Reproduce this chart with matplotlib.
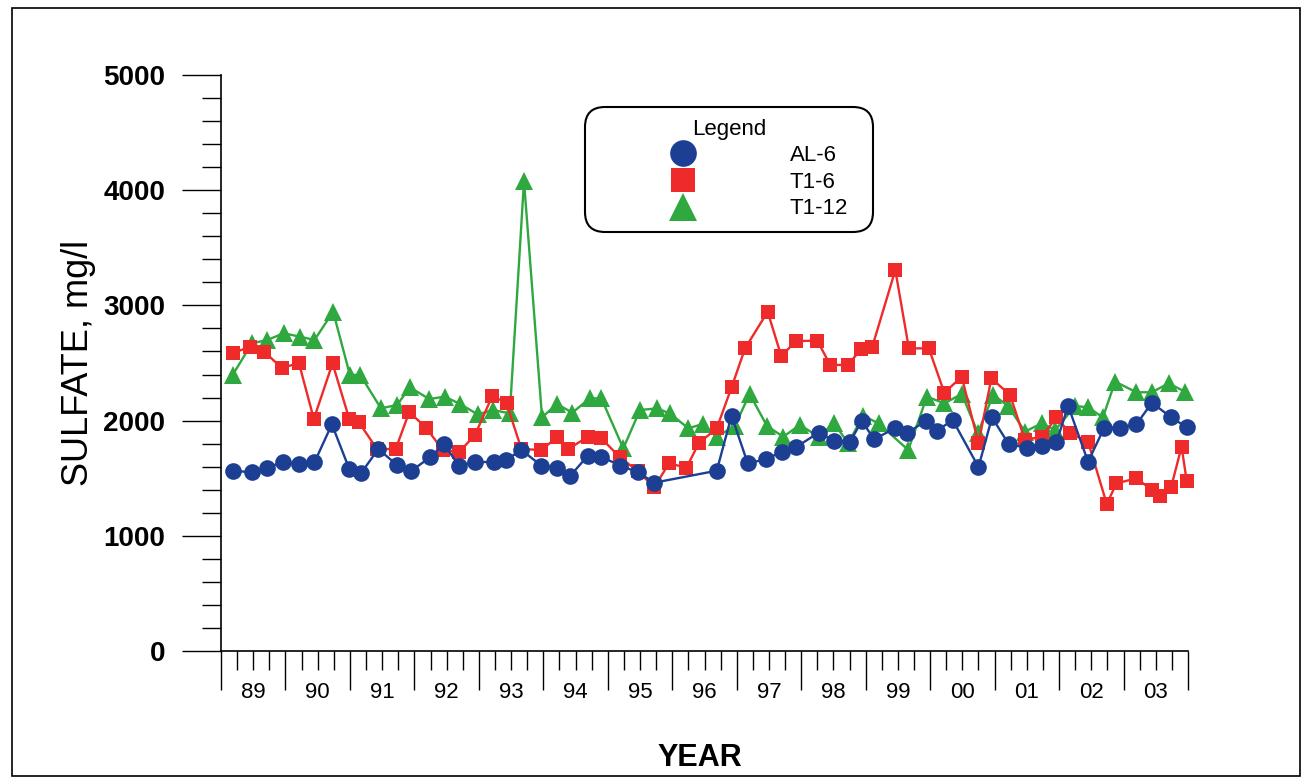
import numpy as np
import matplotlib
matplotlib.use("Agg")
import matplotlib.pyplot as plt
from matplotlib.lines import Line2D
from matplotlib.patches import Rectangle, FancyBboxPatch
from matplotlib.transforms import IdentityTransform

plt.rcParams["font.family"] = ["Liberation Sans", "DejaVu Sans"]

# sampling dates (decimal years) and sulfate values, mg/l
al6_dates = [1989.19, 1989.48, 1989.71, 1989.96, 1990.21, 1990.45, 1990.72, 1990.99,
             1991.17, 1991.44, 1991.73, 1991.95, 1992.24, 1992.46, 1992.69, 1992.94,
             1993.24, 1993.42, 1993.66, 1993.97, 1994.21, 1994.42, 1994.69, 1994.90,
             1995.19, 1995.47, 1995.72, 1996.69, 1996.92, 1997.17, 1997.45, 1997.70,
             1997.92, 1998.27, 1998.51, 1998.76, 1998.94, 1999.13, 1999.45, 1999.64,
             1999.93, 2000.10, 2000.35, 2000.75, 2000.96, 2001.22, 2001.50, 2001.73,
             2001.96, 2002.14, 2002.45, 2002.70, 2002.94, 2003.20, 2003.44, 2003.74,
             2003.98]
al6_values = [1565, 1551, 1586, 1643, 1620, 1638, 1968, 1580,
              1542, 1753, 1615, 1562, 1681, 1794, 1609, 1638,
              1643, 1658, 1745, 1609, 1586, 1522, 1695, 1687,
              1609, 1551, 1461, 1565, 2043, 1629, 1664, 1730,
              1770, 1895, 1825, 1817, 1999, 1837, 1933, 1890,
              1997, 1910, 2005, 1597, 2028, 1794, 1765, 1780,
              1811, 2129, 1643, 1938, 1938, 1968, 2155, 2028,
              1942]

t16_dates = [1989.18, 1989.45, 1989.67, 1989.94, 1990.21, 1990.44, 1990.73, 1990.99,
             1991.14, 1991.42, 1991.71, 1991.92, 1992.18, 1992.44, 1992.69, 1992.94,
             1993.21, 1993.43, 1993.66, 1993.97, 1994.21, 1994.39, 1994.69, 1994.90,
             1995.19, 1995.47, 1995.72, 1995.95, 1996.22, 1996.41, 1996.69, 1996.92,
             1997.13, 1997.48, 1997.69, 1997.92, 1998.25, 1998.45, 1998.72, 1998.93,
             1999.10, 1999.46, 1999.67, 1999.98, 2000.22, 2000.49, 2000.75, 2000.95,
             2001.24, 2001.47, 2001.73, 2001.96, 2002.17, 2002.45, 2002.74, 2002.89,
             2003.20, 2003.44, 2003.56, 2003.74, 2003.90, 2003.98]
t16_values = [2584, 2642, 2598, 2459, 2497, 2014, 2497, 2014,
              1985, 1753, 1753, 2075, 1938, 1745, 1725, 1875,
              2216, 2150, 1753, 1745, 1855, 1753, 1860, 1846,
              1680, 1560, 1421, 1629, 1591, 1803, 1933, 2289,
              2628, 2945, 2561, 2690, 2694, 2483, 2483, 2619,
              2636, 3307, 2627, 2627, 2242, 2381, 1803, 2367,
              2222, 1832, 1860, 2028, 1890, 1817, 1276, 1455,
              1499, 1398, 1345, 1426, 1773, 1478]

t112_dates = [1989.18, 1989.48, 1989.72, 1989.97, 1990.23, 1990.45, 1990.74, 1991.00,
              1991.16, 1991.48, 1991.73, 1991.93, 1992.23, 1992.47, 1992.71, 1992.98,
              1993.22, 1993.48, 1993.70, 1993.98, 1994.21, 1994.45, 1994.72, 1994.90,
              1995.24, 1995.50, 1995.76, 1995.96, 1996.25, 1996.47, 1996.69, 1996.97,
              1997.20, 1997.47, 1997.72, 1997.98, 1998.27, 1998.51, 1998.73, 1998.96,
              1999.20, 1999.66, 1999.95, 2000.22, 2000.49, 2000.74, 2000.98, 2001.21,
              2001.47, 2001.73, 2001.94, 2002.25, 2002.45, 2002.68, 2002.87, 2003.20,
              2003.44, 2003.70, 2003.95]
t112_values = [2396, 2671, 2700, 2758, 2728, 2700, 2945, 2396,
               2396, 2107, 2135, 2289, 2187, 2208, 2144, 2054,
               2092, 2063, 4080, 2028, 2144, 2069, 2193, 2193,
               1759, 2092, 2106, 2063, 1933, 1970, 1860, 1953,
               2231, 1953, 1860, 1962, 1860, 1976, 1803, 2043,
               1976, 1745, 2208, 2150, 2231, 1895, 2222, 2127,
               1904, 1976, 1918, 2127, 2115, 2028, 2338, 2246,
               2246, 2324, 2251]

years = list(range(1989, 2004))
year_labels = ["%02d" % (y % 100) for y in years]

series_names = ["AL-6", "T1-6", "T1-12"]
colors = ["#1c3f94", "#ee2a2a", "#2fa83f"]
markers = ["o", "s", "^"]
sizes = [12, 10.5, 12.5]
zorders = [5, 4, 3]

W, H = 1310, 784
fig = plt.figure(figsize=(W / 100, H / 100), dpi=100)
ax = fig.add_axes([221 / W, 1 - 651 / H, 967 / W, 576 / H])

all_dates = [al6_dates, t16_dates, t112_dates]
all_values = [al6_values, t16_values, t112_values]
for dates, values, color, marker, ms, z in zip(all_dates, all_values, colors, markers, sizes, zorders):
    ax.plot(dates, values, color=color, lw=1.7, marker=marker, ms=ms,
            markeredgewidth=0, zorder=z, clip_on=False)

ax.set_xlim(1989, 2004)
ax.set_ylim(0, 5000)

ax.spines["top"].set_visible(False)
ax.spines["right"].set_visible(False)
ax.spines["left"].set_linewidth(1.2)
ax.spines["bottom"].set_linewidth(1.2)

# y ticks: major every 1000, minor every 200
ax.set_yticks(np.arange(0, 5001, 1000))
ax.set_yticks(np.arange(0, 5001, 200), minor=True)
ax.tick_params(axis="y", which="major", direction="out", length=28, width=1,
               labelsize=20, pad=12)
ax.tick_params(axis="y", which="minor", direction="out", length=14, width=1)
for lab in ax.get_yticklabels():
    lab.set_fontweight("bold")

# x ticks: long ticks at year boundaries, short quarterly ticks, labels mid-year
ax.set_xticks(np.arange(1989, 2005, 1.0))
ax.set_xticklabels([""] * 16)
quarters = [y + q for y in years for q in (0.25, 0.5, 0.75)]
quarter_labels = []
for lab in year_labels:
    quarter_labels += ["", lab, ""]
ax.set_xticks(quarters, minor=True)
ax.set_xticklabels(quarter_labels, minor=True)
ax.tick_params(axis="x", which="major", direction="out", length=28, width=1)
ax.tick_params(axis="x", which="minor", direction="out", length=14, width=1,
               labelsize=16, pad=8)

fig.text(78 / W, 1 - 363 / H, "SULFATE, mg/l", fontsize=26, rotation=90,
         ha="center", va="center")
fig.text(700 / W, 1 - 758 / H, "YEAR", fontsize=22, fontweight="bold",
         ha="center", va="center")

# legend: rounded box drawn in pixels, entries centred inside it
box = FancyBboxPatch((585, H - 232), 288, 125, boxstyle="round,pad=0,rounding_size=20",
                     transform=IdentityTransform(), facecolor="white",
                     edgecolor="black", linewidth=1.5, zorder=9, clip_on=False)
ax.add_artist(box)

handles = [Line2D([], [], ls="none", marker=m, color=c, ms=s * 1.6, markeredgewidth=0)
           for m, c, s in zip(markers, colors, sizes)]
leg = ax.legend(handles, series_names, title="Legend", loc="center",
                bbox_to_anchor=(729 / W, 1 - 169 / H), bbox_transform=fig.transFigure,
                borderaxespad=0, fontsize=16, title_fontsize=16, handlelength=6.6,
                handletextpad=1.5, borderpad=0.5, labelspacing=0.25, numpoints=1,
                frameon=False)
leg.set_zorder(10)

# outer frame around the whole chart
fig.patches.append(Rectangle((12 / W, 8 / H), 1288 / W, 768 / H,
                             transform=fig.transFigure, fill=False,
                             edgecolor="black", linewidth=1.2))

fig.savefig("out.png", dpi=100)
